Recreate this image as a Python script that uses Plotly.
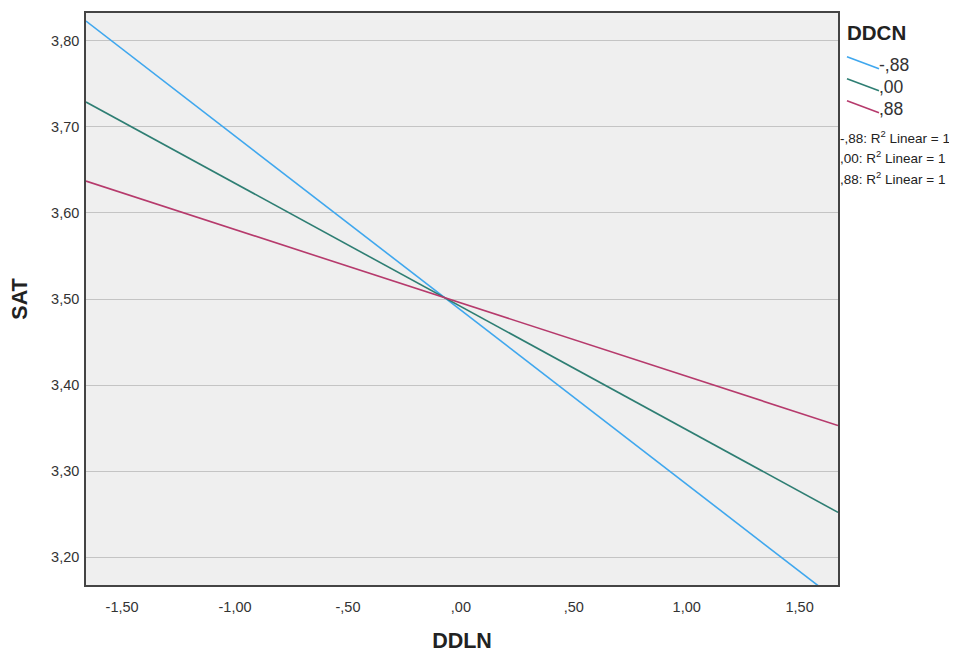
import plotly.graph_objects as go

# Data
groups = ["-,88", ",00", ",88"]
x_ends = [-1.66, 1.67]
y_blue = [3.823, 3.149]
y_green = [3.729, 3.252]
y_red = [3.637, 3.353]
series = [y_blue, y_green, y_red]
colors = ["#3FA7EE", "#2E7E73", "#B63A6C"]

x_tickvals = [-1.5, -1.0, -0.5, 0.0, 0.5, 1.0, 1.5]
x_ticktext = ["-1,50", "-1,00", "-,50", ",00", ",50", "1,00", "1,50"]
y_tickvals = [3.2, 3.3, 3.4, 3.5, 3.6, 3.7, 3.8]
y_ticktext = ["3,20", "3,30", "3,40", "3,50", "3,60", "3,70", "3,80"]

# page offset (browser body margin) compensation
OFF = 8
W, H = 957 - OFF, 653 - OFF
L, R, T, B = 86 - OFF, 838 - OFF, 11 - OFF, 585 - OFF

fig = go.Figure()
for name, ys, c in zip(groups, series, colors):
    fig.add_trace(go.Scatter(x=x_ends, y=ys, mode="lines", name=name,
                             line=dict(color=c, width=1.6), showlegend=False))

font = "Liberation Sans, Arial, sans-serif"
fig.update_layout(
    width=W, height=H,
    margin=dict(l=L, r=W - R, t=T, b=H - B, pad=0),
    paper_bgcolor="white", plot_bgcolor="#EFEFEF",
    font=dict(family=font, color="#333333"),
    xaxis=dict(range=[-1.66, 1.67], tickvals=x_tickvals, ticktext=x_ticktext,
               showgrid=False, zeroline=False, showline=True, linecolor="#444444",
               linewidth=1.5, mirror=True, ticks="", ticklabelstandoff=8,
               tickfont=dict(size=14.5, color="#333333"),
               title=dict(text="<b>DDLN</b>", font=dict(size=21.5, color="#222222"), standoff=19)),
    yaxis=dict(range=[3.1676, 3.8324], tickvals=y_tickvals, ticktext=y_ticktext,
               showgrid=True, gridcolor="#C4C4C4", gridwidth=1.3, zeroline=False,
               showline=True, linecolor="#444444", linewidth=1.5, mirror=True,
               ticks="", ticklabelstandoff=2,
               tickfont=dict(size=14.5, color="#333333"),
               title=dict(text="<b>SAT</b>", font=dict(size=21.5, color="#222222"), standoff=24)),
)

# Legend (manual, SPSS-style); positions given in target-pixel coordinates
def px(xp):
    return (xp - OFF - L) / (R - L)

def py(yp):
    return (B - (yp - OFF)) / (B - T)

fig.add_annotation(x=px(845), y=py(31), xref="paper", yref="paper", text="<b>DDCN</b>",
                   showarrow=False, xanchor="left", yanchor="middle",
                   font=dict(size=20.5, color="#222222", family=font))
for i, (name, c) in enumerate(zip(groups, colors)):
    yc = 63 + i * 22
    fig.add_shape(type="line", xref="paper", yref="paper",
                  x0=px(847), y0=py(yc - 8), x1=px(879), y1=py(yc + 4),
                  line=dict(color=c, width=1.6))
    fig.add_annotation(x=px(877), y=py(yc), xref="paper", yref="paper", text=name,
                       showarrow=False, xanchor="left", yanchor="middle",
                       font=dict(size=17.5, color="#333333", family=font))
for i, name in enumerate(groups):
    yc = 135 + i * 21
    fig.add_annotation(x=px(838), y=py(yc), xref="paper", yref="paper",
                       text=f"{name}: R<sup>2</sup> Linear = 1",
                       showarrow=False, xanchor="left", yanchor="middle",
                       font=dict(size=13.5, color="#222222", family=font))

fig.write_html("out.html")
